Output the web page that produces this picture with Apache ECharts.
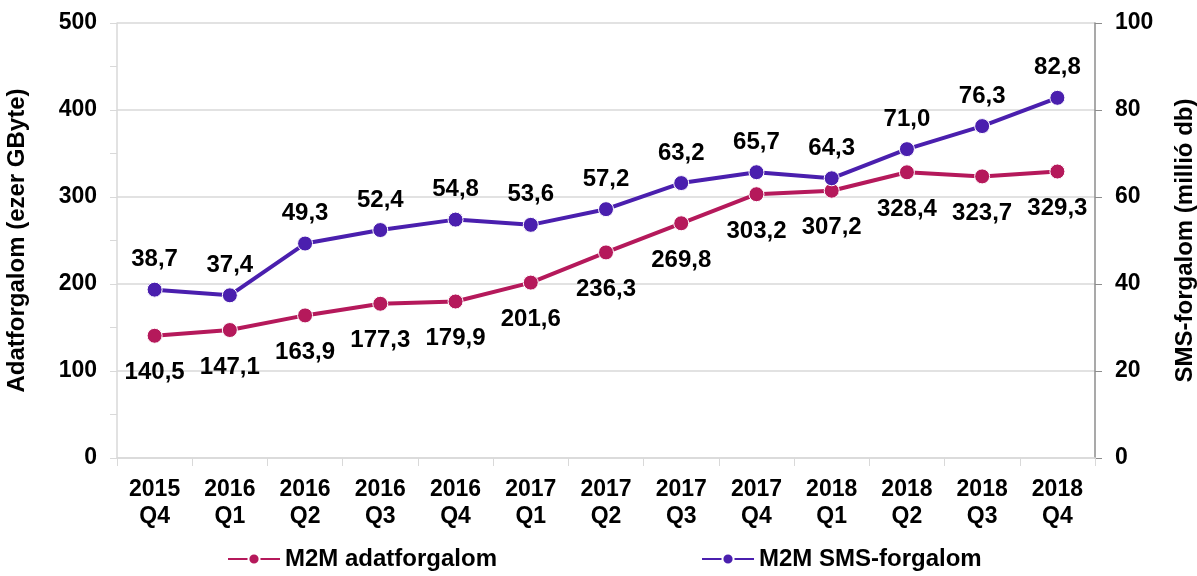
<!DOCTYPE html>
<html>
<head>
<meta charset="utf-8">
<script src="https://cdn.jsdelivr.net/npm/echarts@6/dist/echarts.min.js"></script>
<style>
  html, body { margin: 0; padding: 0; background: #fff; }
  #chart { width: 1197px; height: 576px; }
</style>
</head>
<body>
<div id="chart"></div>
<script>
const categories = [
  "2015\nQ4", "2016\nQ1", "2016\nQ2", "2016\nQ3", "2016\nQ4",
  "2017\nQ1", "2017\nQ2", "2017\nQ3", "2017\nQ4",
  "2018\nQ1", "2018\nQ2", "2018\nQ3", "2018\nQ4",
];
const dataTraffic = [140.5, 147.1, 163.9, 177.3, 179.9, 201.6, 236.3, 269.8, 303.2, 307.2, 328.4, 323.7, 329.3];
const smsTraffic = [38.7, 37.4, 49.3, 52.4, 54.8, 53.6, 57.2, 63.2, 65.7, 64.3, 71.0, 76.3, 82.8];

const font = "'Liberation Sans', Arial, sans-serif";
const magenta = "#B5195B";
const purple = "#4A1FAE";

const fmt = (p) => p.value.toFixed(1).replace(".", ",");

const chart = echarts.init(document.getElementById("chart"));
chart.setOption({
  animation: false,
  textStyle: { fontFamily: font },
  grid: { left: 117, right: 102, top: 23, bottom: 118, containLabel: false, outerBoundsMode: "none" },
  legend: {
    bottom: 0,
    left: 222,
    itemGap: 204,
    itemWidth: 52,
    itemHeight: 14,
    textStyle: { fontFamily: font, fontSize: 24, fontWeight: "bold", color: "#000" },
    data: ["M2M adatforgalom", "M2M SMS-forgalom"],
  },
  xAxis: {
    type: "category",
    data: categories,
    boundaryGap: true,
    axisLine: { lineStyle: { color: "#d9d9d9", width: 1.5 } },
    axisTick: { show: true, length: 8, lineStyle: { color: "#d9d9d9" } },
    axisLabel: {
      fontFamily: font,
      fontSize: 23,
      fontWeight: "bold",
      color: "#000",
      lineHeight: 27,
      margin: 18,
      interval: 0,
    },
  },
  yAxis: [
    {
      type: "value",
      min: 0,
      max: 500,
      interval: 100,
      name: "Adatforgalom (ezer GByte)",
      nameLocation: "middle",
      nameGap: 88,
      nameTextStyle: { fontFamily: font, fontSize: 24, fontWeight: "bold", color: "#000" },
      axisLine: { show: true, lineStyle: { color: "#d9d9d9", width: 1.5 } },
      axisTick: { show: true, length: 7, lineStyle: { color: "#d9d9d9" } },
      minorTick: { show: true, splitNumber: 2, length: 7, lineStyle: { color: "#d9d9d9" } },
      splitLine: { show: true, lineStyle: { color: "#d9d9d9", width: 1.5 } },
      axisLabel: { fontFamily: font, fontSize: 23, fontWeight: "bold", color: "#000", margin: 20 },
    },
    {
      type: "value",
      min: 0,
      max: 100,
      interval: 20,
      name: "SMS-forgalom (millió db)",
      nameLocation: "middle",
      nameGap: 78,
      nameRotate: 90,
      nameTextStyle: { fontFamily: font, fontSize: 24, fontWeight: "bold", color: "#000" },
      axisLine: { show: true, lineStyle: { color: "#8c8c8c", width: 1.5 } },
      axisTick: { show: true, length: 7, lineStyle: { color: "#8c8c8c" } },
      splitLine: { show: false },
      axisLabel: { fontFamily: font, fontSize: 23, fontWeight: "bold", color: "#000", margin: 20 },
    },
  ],
  series: [
    {
      name: "M2M adatforgalom",
      type: "line",
      yAxisIndex: 0,
      data: dataTraffic,
      symbol: "circle",
      symbolSize: 15,
      itemStyle: { color: magenta, borderColor: "#fff", borderWidth: 1 },
      lineStyle: { color: magenta, width: 4 },
      label: {
        show: true,
        position: "bottom",
        distance: 17,
        formatter: fmt,
        fontFamily: font,
        fontSize: 24,
        fontWeight: "bold",
        color: "#000",
      },
    },
    {
      name: "M2M SMS-forgalom",
      type: "line",
      yAxisIndex: 1,
      data: smsTraffic,
      symbol: "circle",
      symbolSize: 15,
      itemStyle: { color: purple, borderColor: "#fff", borderWidth: 1 },
      lineStyle: { color: purple, width: 4 },
      label: {
        show: true,
        position: "top",
        distance: 10,
        formatter: fmt,
        fontFamily: font,
        fontSize: 24,
        fontWeight: "bold",
        color: "#000",
      },
    },
  ],
});
</script>
</body>
</html>
